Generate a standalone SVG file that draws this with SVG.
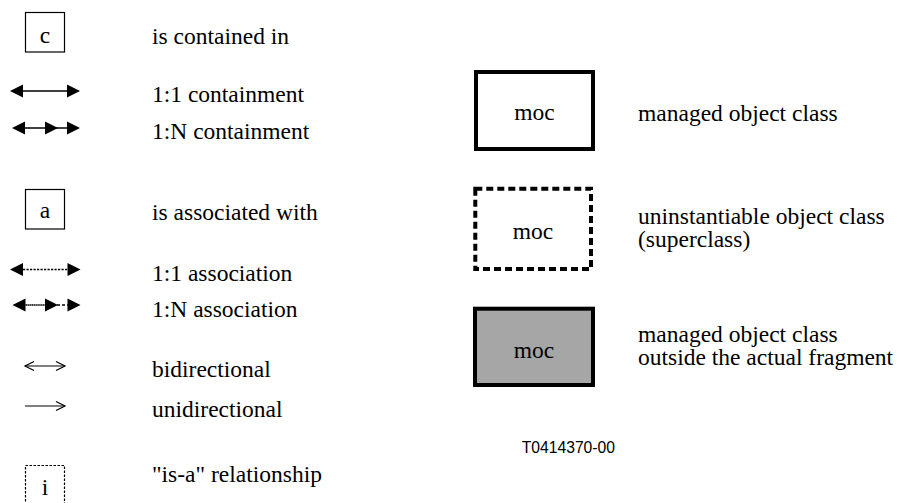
<svg xmlns="http://www.w3.org/2000/svg" xmlns:xlink="http://www.w3.org/1999/xlink" width="900" height="503" viewBox="0 0 900 503">
<style>
  .t { font-family: 'Liberation Serif', 'DejaVu Serif', serif; font-size: 23.5px; fill: #000; }
  .c { text-anchor: middle; }
  .sans { font-family: 'Liberation Sans', 'DejaVu Sans', sans-serif; font-size: 15.7px; fill: #000; }
  .small { fill: #fff; stroke: #000; stroke-width: 1.2; }
  .moc { fill: #fff; stroke: #000; stroke-width: 4; }
  .dash { stroke-dasharray: 7 4; }
  .grey { fill: #a6a6a6; }
  .ln { stroke: #000; stroke-width: 1.5; fill: none; }
  .dot { stroke-dasharray: 2.2 1.3; }
  .dense { stroke-dasharray: 1.5 0.4; }
  .open { stroke: #000; stroke-width: 1.2; fill: none; }
</style>
<defs>
  <polygon id="hr" points="0,0 -13,-6.5 -13,6.5" fill="#000"/>
  <polygon id="hl" points="0,0 13,-6.5 13,6.5" fill="#000"/>
  <path id="or" d="M-9,-4.5 L0,0 L-9,4.5" class="open"/>
  <path id="ol" d="M9,-4.5 L0,0 L9,4.5" class="open"/>
</defs>

<g font-family="Liberation Serif, serif">
<g id="node-c">
  <rect class="small" x="25.5" y="12.5" width="39" height="39.5"/>
  <text class="t c" x="45" y="43">c</text>
</g>
<g id="node-a">
  <rect class="small" x="25.5" y="189.5" width="39" height="39.5"/>
  <text class="t c" x="45" y="218">a</text>
</g>
<g id="node-i">
  <rect class="small" x="25.5" y="465.5" width="39" height="45" style="stroke-dasharray:2.5 1.5"/>
  <text class="t c" x="45" y="495">i</text>
</g>

<g id="node-moc">
  <rect class="moc" x="476" y="72" width="117" height="77"/>
  <text class="t c" x="534.5" y="120">moc</text>
</g>
<g id="node-moc-uninstantiable">
  <rect class="moc dash" x="475.3" y="188.7" width="115.7" height="80.3"/>
  <text class="t c" x="533" y="239">moc</text>
</g>
<g id="node-moc-outside">
  <rect class="moc grey" x="475" y="308.7" width="118" height="76.3"/>
  <text class="t c" x="534" y="358">moc</text>
</g>

<g id="connectors">
  <line class="ln" x1="20" y1="91" x2="70" y2="91"/>
  <use xlink:href="#hl" x="10" y="91"/>
  <use xlink:href="#hr" x="80" y="91"/>
  <line class="ln" x1="22" y1="128" x2="70" y2="128"/>
  <use xlink:href="#hl" x="12" y="128"/>
  <use xlink:href="#hr" x="58" y="128"/>
  <use xlink:href="#hr" x="80" y="128"/>
  <line class="ln dot" x1="23" y1="269.5" x2="68" y2="269.5"/>
  <use xlink:href="#hl" x="10" y="269.5"/>
  <use xlink:href="#hr" x="80.5" y="269.5"/>
  <line class="ln dense" x1="24" y1="305" x2="46" y2="305"/>
  <line class="ln" x1="57" y1="305" x2="68" y2="305" style="stroke-dasharray:3 2"/>
  <use xlink:href="#hl" x="12.5" y="305"/>
  <use xlink:href="#hr" x="58" y="305"/>
  <use xlink:href="#hr" x="80.5" y="305"/>
  <line class="open" x1="25" y1="366" x2="65" y2="366"/>
  <use xlink:href="#ol" x="25" y="366"/>
  <use xlink:href="#or" x="65" y="366"/>
  <line class="open" x1="25" y1="406" x2="65" y2="406"/>
  <use xlink:href="#or" x="65" y="406"/>
</g>

<g id="labels">
  <text class="t" x="152" y="44">is contained in</text>
  <text class="t" x="152" y="102">1:1 containment</text>
  <text class="t" x="152" y="139">1:N containment</text>
  <text class="t" x="152" y="220">is associated with</text>
  <text class="t" x="152" y="281">1:1 association</text>
  <text class="t" x="152" y="317">1:N association</text>
  <text class="t" x="152" y="377">bidirectional</text>
  <text class="t" x="152" y="417">unidirectional</text>
  <text class="t" x="152" y="482">"is-a" relationship</text>
  <text class="t" x="638" y="121">managed object class</text>
  <text class="t" x="638" y="223.5">uninstantiable object class</text>
  <text class="t" x="638" y="247">(superclass)</text>
  <text class="t" x="638" y="341.5">managed object class</text>
  <text class="t" x="638" y="365">outside the actual fragment</text>
  <text class="sans" x="521.7" y="453">T0414370-00</text>
</g>
</g>
</svg>
